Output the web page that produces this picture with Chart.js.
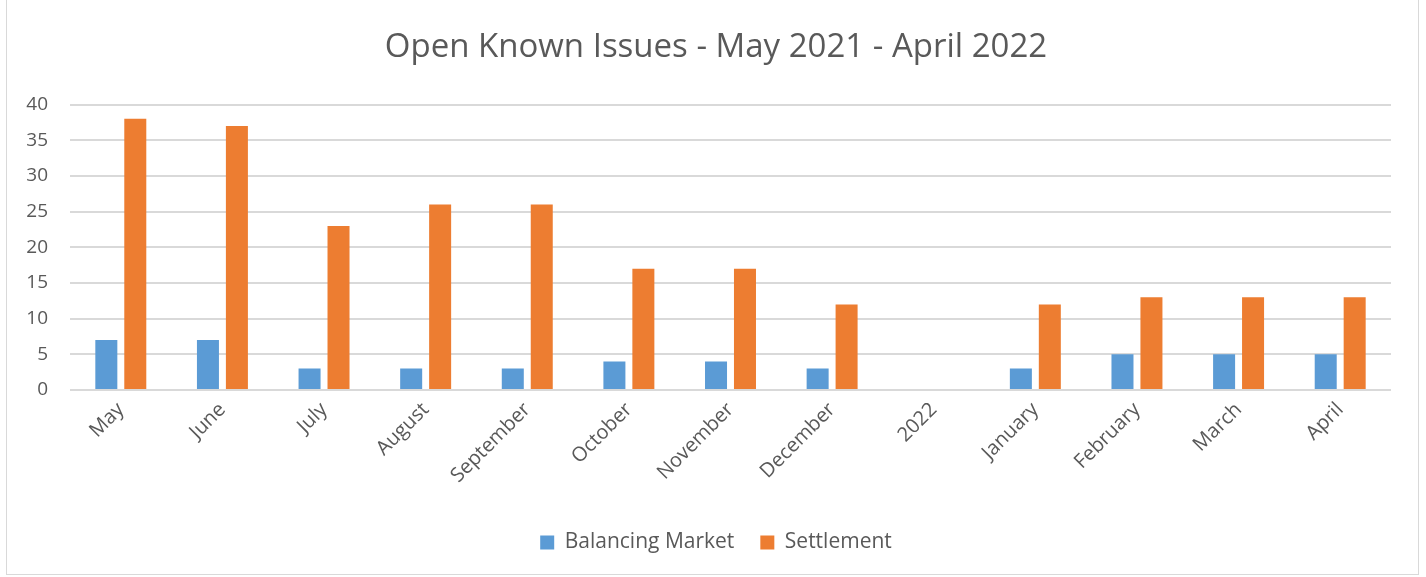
<!DOCTYPE html>
<html>
<head>
<meta charset="utf-8">
<script src="https://cdn.jsdelivr.net/npm/chart.js@4/dist/chart.umd.min.js"></script>
<style>
html,body{margin:0;padding:0;background:#fff;}
#wrap{position:relative;width:1426px;height:577px;}
#frame{position:absolute;left:6px;top:-1px;width:1413px;height:576px;border:1px solid #d9d9d9;box-sizing:border-box;pointer-events:none;}
canvas{display:block;}
</style>
</head>
<body>
<div id="wrap">
<canvas id="c" width="1426" height="577"></canvas>
<div id="frame"></div>
</div>
<script>
const categories = ["May","June","July","August","September","October","November","December","2022","January","February","March","April"];
const balancingMarket = [7,7,3,3,3,4,4,3,null,3,5,5,5];
const settlement = [38,37,23,26,26,17,17,12,null,12,13,13,13];
const yTicks = [0,5,10,15,20,25,30,35,40];

const FONT = "'Open Sans', 'Liberation Sans', sans-serif";
const TXT = "#595959";

new Chart(document.getElementById('c'), {
  type: 'bar',
  data: {
    labels: categories,
    datasets: [
      {label: 'Balancing Market', data: balancingMarket, backgroundColor: '#5b9bd5', categoryPercentage: 0.57, barPercentage: 0.76},
      {label: 'Settlement', data: settlement, backgroundColor: '#ed7d31', categoryPercentage: 0.57, barPercentage: 0.76}
    ]
  },
  options: {
    responsive: false,
    animation: false,
    layout: {padding: {left: 6, right: 0, top: 0, bottom: 14}},
    plugins: {
      title: {
        display: true,
        text: 'Open Known Issues - May 2021 - April 2022',
        color: TXT,
        font: {family: FONT, size: 33, weight: 'normal'},
        padding: {top: 28, bottom: 37}
      },
      legend: {
        position: 'bottom',
        labels: {
          color: TXT,
          font: {family: FONT, size: 21},
          boxWidth: 14, boxHeight: 14,
          padding: 26
        }
      },
      tooltip: {enabled: false}
    },
    scales: {
      y: {
        min: 0, max: 40,
        afterBuildTicks: (s) => { s.ticks = yTicks.map(v => ({value: v})); },
        afterFit: (s) => { s.width = 64; },
        border: {display: false},
        grid: {color: '#d9d9d9', lineWidth: 2, drawTicks: false},
        ticks: {color: TXT, font: {family: FONT, size: 19}, padding: 22}
      },
      yRight: {
        position: 'right',
        display: true,
        afterFit: (s) => { s.width = 35; },
        border: {display: false},
        grid: {display: false, drawTicks: false},
        ticks: {display: false}
      },
      x: {
        afterFit: (s) => { s.height = 116; },
        border: {display: false},
        grid: {display: false, drawTicks: false},
        ticks: {color: TXT, font: {family: FONT, size: 20}, maxRotation: 45, minRotation: 45, padding: 8}
      }
    }
  }
});
</script>
</body>
</html>
